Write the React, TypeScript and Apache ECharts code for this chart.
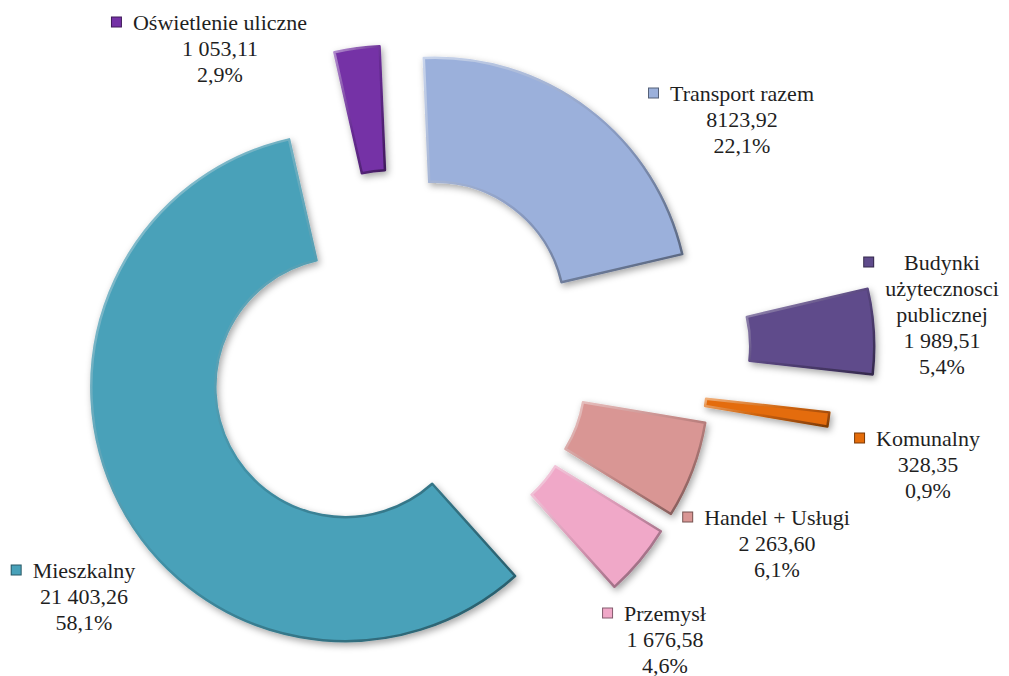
import React, { useEffect, useRef } from 'react';
import * as echarts from 'echarts';

// ---- data ----
const categories = [
  'Transport razem',
  'Budynki użytecznosci publicznej',
  'Komunalny',
  'Handel + Usługi',
  'Przemysł',
  'Mieszkalny',
  'Oświetlenie uliczne',
];
const values = [8123.92, 1989.51, 328.35, 2263.6, 1676.58, 21403.26, 1053.11];
const valueLabels = ['8123,92', '1 989,51', '328,35', '2 263,60', '1 676,58', '21 403,26', '1 053,11'];

// ---- styles / layout ----
const colors = ['#9BB0DB', '#5F4B8B', '#E46C0A', '#D99694', '#F0A8C8', '#48A1B9', '#7431A6'];
const explodePx = [60, 222, 180, 60, 60, 60, 60];
const labelAnchor: [number, number][] = [
  [742, 80],
  [942, 249],
  [928, 425],
  [777, 504],
  [665, 600],
  [84, 557],
  [220, 9],
];
const CX = 398.6;
const CY = 359.5;
const R_IN = 130;
const R_OUT = 254;
const START_DEG = -2.5; // clockwise from 12 o'clock
const FONT = 'Liberation Serif';
const TEXT = '#1f1f1f';
const WRAP_AT = 20; // names longer than this are broken into one word per line

function mix(hex: string, f: number, target: number) {
  const n = parseInt(hex.slice(1), 16);
  const ch = [(n >> 16) & 255, (n >> 8) & 255, n & 255].map((c) =>
    Math.max(0, Math.min(255, Math.round(c + (target - c) * f)))
  );
  return `rgb(${ch[0]},${ch[1]},${ch[2]})`;
}

function bevelStroke(color: string) {
  return new echarts.graphic.LinearGradient(0, 0, 1, 1, [
    { offset: 0, color: mix(color, 0.45, 255) },
    { offset: 0.5, color: mix(color, 0.1, 0) },
    { offset: 1, color: mix(color, 0.45, 0) },
  ]);
}

function buildOption() {
  const total = values.reduce((a, b) => a + b, 0);
  let cum = 0;
  const series = values.map((v, i) => {
    const midDeg = START_DEG + ((cum + v / 2) / total) * 360;
    cum += v;
    const mid = (midDeg * Math.PI) / 180;
    const d = explodePx[i];
    const center = [CX + d * Math.sin(mid), CY - d * Math.cos(mid)];
    const pct = ((v / total) * 100).toFixed(1).replace('.', ',') + '%';
    const nameLines =
      categories[i].length > WRAP_AT ? categories[i].split(' ') : [categories[i]];
    const lines = [
      `{sq|}{gap|}{t|${nameLines[0]}}{rp|}`,
      ...nameLines.slice(1).map((s) => `{lp|}{t|${s}}{rp|}`),
      `{lp|}{t|${valueLabels[i]}}{rp|}`,
      `{lp|}{t|${pct}}{rp|}`,
    ];
    const color = colors[i];
    return {
      type: 'pie',
      name: categories[i],
      center,
      radius: [R_IN, R_OUT],
      startAngle: 90 - START_DEG,
      clockwise: true,
      avoidLabelOverlap: false,
      silent: true,
      minAngle: 0,
      padAngle: 0,
      animation: false,
      emphasis: { disabled: true },
      labelLine: { show: false },
      labelLayout: {
        x: labelAnchor[i][0],
        y: labelAnchor[i][1],
        align: 'center',
        verticalAlign: 'top',
        hideOverlap: false,
      },
      data: values.map((vv, j) =>
        j === i
          ? {
              value: vv,
              name: categories[j],
              itemStyle: {
                color,
                borderColor: bevelStroke(color),
                borderWidth: 2.5,
                borderJoin: 'round',
                borderRadius: 0,
                shadowBlur: 7,
                shadowColor: 'rgba(0,0,0,0.35)',
                shadowOffsetX: 2,
                shadowOffsetY: 3,
              },
              label: {
                show: true,
                position: 'inside',
                rotate: 0,
                formatter: () => lines.join('\n'),
                color: TEXT,
                fontFamily: FONT,
                fontSize: 22,
                lineHeight: 26,
                textBorderWidth: 0,
                textShadowBlur: 0,
                overflow: 'none',
                rich: {
                  sq: {
                    width: 9,
                    height: 9,
                    backgroundColor: color,
                    borderColor: mix(color, 0.45, 0),
                    borderWidth: 1,
                    align: 'left',
                  },
                  gap: { width: 12, height: 10, align: 'left' },
                  lp: { width: 21, height: 10, align: 'left' },
                  rp: { width: 21, height: 10, align: 'right' },
                  t: {
                    align: 'center',
                    fontFamily: FONT,
                    fontSize: 22,
                    lineHeight: 26,
                    color: TEXT,
                    textBorderWidth: 0,
                  },
                },
              },
            }
          : {
              value: vv,
              name: categories[j],
              itemStyle: { color: 'rgba(0,0,0,0)', borderWidth: 0, shadowBlur: 0 },
              label: { show: false },
            }
      ),
    };
  });
  return {
    animation: false,
    backgroundColor: '#ffffff',
    textStyle: { fontFamily: FONT },
    tooltip: { show: false },
    series,
  };
}

export default function App() {
  const ref = useRef<HTMLDivElement>(null);
  useEffect(() => {
    if (!ref.current) return;
    const chart = echarts.init(ref.current, null, { renderer: 'svg' });
    chart.setOption(buildOption() as any);
    return () => chart.dispose();
  }, []);
  return (
    <div
      ref={ref}
      style={{ position: 'absolute', left: 0, top: 0, width: 1009, height: 676, background: '#fff' }}
    />
  );
}
